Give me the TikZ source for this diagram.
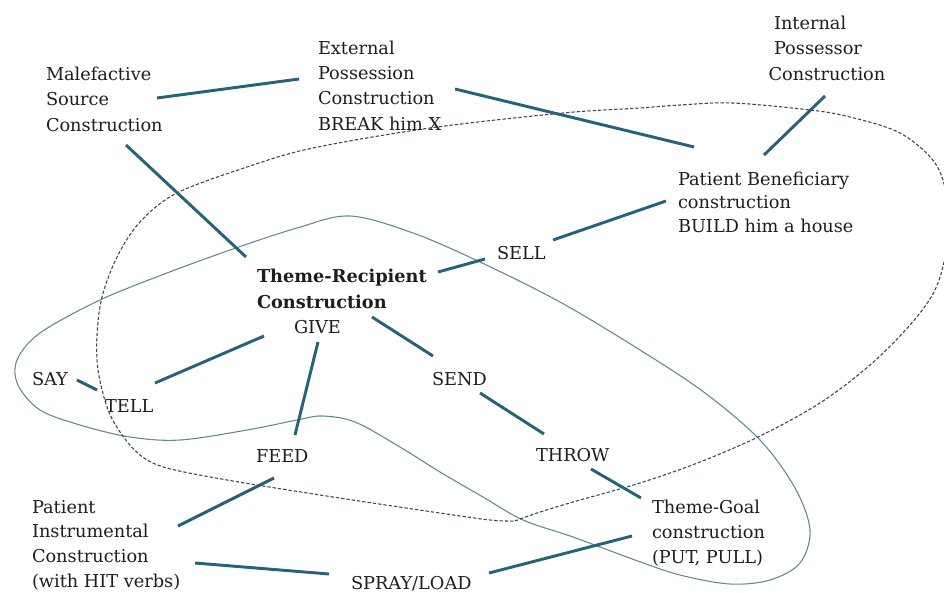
\documentclass[tikz,border=0pt]{standalone}
\usepackage{fontspec}
\setmainfont{DejaVu Serif}
\usetikzlibrary{calc}
\definecolor{conncol}{RGB}{38,98,120}
\definecolor{loopcol}{RGB}{100,135,150}
\definecolor{dashcol}{RGB}{60,70,78}
\definecolor{txtcol}{RGB}{30,30,30}
\begin{document}
\begin{tikzpicture}[x=0.75pt,y=-0.75pt,
  lbl/.style={anchor=base west, inner sep=0pt, outer sep=0pt, text=txtcol,
    font=\fontsize{13.3}{19}\selectfont, align=left},
  conn/.style={draw=conncol, line width=2.2pt},
  looppath/.style={draw=loopcol, line width=0.8pt},
  dashpath/.style={draw=dashcol, line width=0.8pt, dash pattern=on 2.5pt off 1.5pt}]
\useasboundingbox (0,0) rectangle (944,592);
\fill[white] (0,0) rectangle (944,592);

% solid loop
\path[looppath] plot[smooth cycle, tension=0.55] coordinates {
 (350,216) (413,233) (480,262) (560,302) (640,350) (705,393) (760,440)
 (795,488) (810,530) (800,563) (770,580) (730,584) (680,575) (635,560)
 (573,537) (523,520) (483,497) (440,472) (400,447) (355,422) (322,416)
 (297,420) (247,430) (180,440) (130,437) (80,425) (40,410) (18,385)
 (17,360) (40,333) (100,300) (167,273) (233,249) (297,228)};

% dashed loop
\path[dashpath] plot[smooth, tension=0.55] coordinates {
 (515,521) (537,513) (573,502) (640,483) (700,462) (760,436) (820,403)
 (870,365) (910,325) (935,290) (946,250) (947,200) (935,163) (900,133)
 (850,117) (810,110) (733,103) (680,105) (640,108) (563,113) (430,128)
 (313,148) (250,166) (177,193) (140,222) (117,257) (102,297) (97,335)
 (98,370) (107,407) (120,432) (140,455) (167,468) (233,481) (333,497)
 (433,512) (490,520) (515,521)};

% labels (base west = baseline of the last line)
\node[lbl] (malef) at (46,131) {Malefactive\\Source\\Construction};
\node[lbl] (extp) at (318,130) {External\\Possession\\Construction\\BREAK him X};
\node[lbl] (intp) at (774,80) {Internal\\Possessor\\\hspace*{-4pt}Construction};
\node[lbl, font=\fontsize{13.3}{17.6}\selectfont] (patben) at (678,232) {Patient Beneficiary\\construction\\BUILD him a house};
\node[lbl] (sell) at (497,259) {SELL};
\node[lbl, font=\bfseries\fontsize{13.3}{19}\selectfont] (tr) at (257,308) {Theme-Recipient\\Construction};
\node[lbl] (give) at (294,333) {GIVE};
\node[lbl] (say) at (32,385) {SAY};
\node[lbl] (tell) at (105,412) {TELL};
\node[lbl] (send) at (432,385) {SEND};
\node[lbl] (feed) at (256,462) {FEED};
\node[lbl] (throw) at (536,461) {THROW};
\node[lbl, font=\fontsize{13.3}{18.5}\selectfont] (tg) at (652,563) {Theme-Goal\\construction\\(PUT, PULL)};
\node[lbl, font=\fontsize{13.3}{18.5}\selectfont] (patins) at (32,587) {Patient\\Instrumental\\Construction\\(with HIT verbs)};
\node[lbl] (spray) at (351,589) {SPRAY/LOAD};

% connectors
\draw[conn] ([shift={(111,-33)}]malef.base west) -- ([shift={(-19,-51)}]extp.base west);
\draw[conn] ([shift={(137,-41)}]extp.base west) -- ([shift={(16,-85)}]patben.base west);
\draw[conn] ([shift={(51,16)}]intp.base west) -- ([shift={(86,-77)}]patben.base west);
\draw[conn] ([shift={(80,14)}]malef.base west) -- ([shift={(-11,-51)}]tr.base west);
\draw[conn] ([shift={(-12,-31)}]patben.base west) -- ([shift={(56,-19)}]sell.base west);
\draw[conn] ([shift={(-12,0)}]sell.base west) -- ([shift={(181,-36)}]tr.base west);
\draw[conn] ([shift={(115,9)}]tr.base west) -- ([shift={(1,-29)}]send.base west);
\draw[conn] ([shift={(48,8)}]send.base west) -- ([shift={(8,-27)}]throw.base west);
\draw[conn] ([shift={(55,8)}]throw.base west) -- ([shift={(-11,-65)}]tg.base west);
\draw[conn] ([shift={(-20,-27)}]tg.base west) -- ([shift={(138,-16)}]spray.base west);
\draw[conn] ([shift={(163,-24)}]patins.base west) -- ([shift={(-22,-15)}]spray.base west);
\draw[conn] ([shift={(146,-61)}]patins.base west) -- ([shift={(18,16)}]feed.base west);
\draw[conn] ([shift={(24,9)}]give.base west) -- ([shift={(39,-27)}]feed.base west);
\draw[conn] ([shift={(-30,3)}]give.base west) -- ([shift={(50,-29)}]tell.base west);
\draw[conn] ([shift={(45,-5)}]say.base west) -- ([shift={(-8,-22)}]tell.base west);
\end{tikzpicture}
\end{document}
